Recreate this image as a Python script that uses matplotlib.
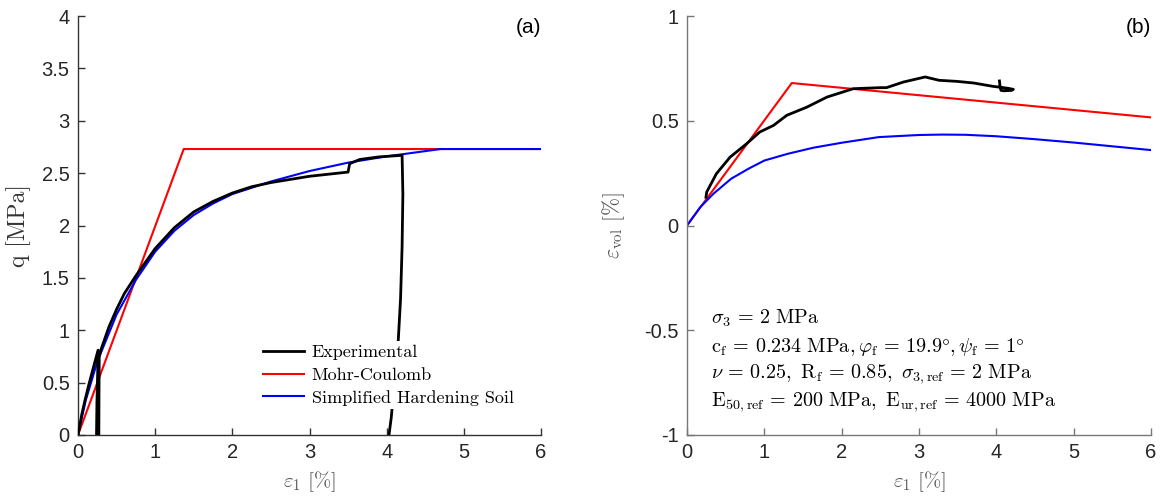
import matplotlib
matplotlib.use("Agg")
import matplotlib.pyplot as plt

matplotlib.rcParams['mathtext.fontset'] = 'cm'
matplotlib.rcParams['font.family'] = 'cmr10'
matplotlib.rcParams['axes.formatter.use_mathtext'] = True

# ---------------- (a) deviatoric stress vs axial strain ----------------
exp_q_x = [0, 0.05, 0.09, 0.14, 0.18, 0.22, 0.26, 0.255, 0.245, 0.24, 0.27, 0.272, 0.275,
           0.3, 0.4, 0.5, 0.6, 0.75, 1.0, 1.25, 1.5, 1.75, 2.0, 2.25, 2.5, 2.75, 3.0,
           3.25, 3.5, 3.52, 3.65, 3.9, 4.2, 4.21, 4.2, 4.18, 4.15, 4.1, 4.06, 4.03]
exp_q_y = [0, 0.2, 0.33, 0.48, 0.59, 0.7, 0.81, 0.6, 0.3, 0.0, 0.0, 0.4, 0.75,
           0.82, 1.03, 1.2, 1.35, 1.52, 1.78, 1.98, 2.13, 2.23, 2.31, 2.37, 2.41, 2.44, 2.47,
           2.49, 2.51, 2.59, 2.63, 2.655, 2.67, 2.3, 1.8, 1.3, 0.9, 0.5, 0.17, 0.0]

mc_q_x = [0, 1.37, 6]
mc_q_y = [0, 2.73, 2.73]

hs_q_x = [0, 0.1, 0.25, 0.5, 0.75, 1.0, 1.25, 1.5, 1.75, 2.0, 2.5, 3.0, 3.5, 4.0, 4.5, 4.7, 6]
hs_q_y = [0, 0.33, 0.7, 1.15, 1.48, 1.75, 1.95, 2.1, 2.21, 2.3, 2.42, 2.52, 2.6, 2.66, 2.71, 2.73, 2.73]

# ---------------- (b) volumetric strain vs axial strain ----------------
exp_v_x = [0.245, 0.255, 0.38, 0.556, 0.77, 0.94, 1.12, 1.29, 1.55, 1.81, 2.15, 2.5, 2.58,
           2.8, 3.08, 3.26, 3.49, 3.71, 3.96, 4.05, 4.15, 4.22, 4.2, 4.1, 4.06, 4.05, 4.04]
exp_v_y = [0.135, 0.16, 0.247, 0.326, 0.39, 0.446, 0.478, 0.526, 0.565, 0.613, 0.653, 0.658, 0.658,
           0.685, 0.709, 0.693, 0.688, 0.68, 0.664, 0.66, 0.655, 0.65, 0.645, 0.643, 0.645, 0.66, 0.69]

mc_v_x = [0, 1.355, 6]
mc_v_y = [0, 0.68, 0.516]

hs_v_x = [0, 0.17, 0.34, 0.57, 0.8, 1.0, 1.3, 1.63, 2.0, 2.48, 3.0, 3.3, 3.6, 4.0, 4.5, 5.0, 5.5, 6.0]
hs_v_y = [0, 0.087, 0.151, 0.223, 0.272, 0.31, 0.342, 0.371, 0.395, 0.422, 0.432, 0.434, 0.433,
          0.426, 0.412, 0.396, 0.378, 0.36]

params = [r'$\sigma_3\,=\,2\ \mathrm{MPa}$',
          r'$\mathrm{c_f}\,=\,0.234\ \mathrm{MPa},\varphi_\mathrm{f}\,=\,19.9\degree,\psi_\mathrm{f}\,=\,1\degree$',
          r'$\nu\,=\,0.25,\ \mathrm{R_f}\,=\,0.85,\ \sigma_{3,\mathrm{ref}}\,=\,2\ \mathrm{MPa}$',
          r'$\mathrm{E_{50,ref}}\,=\,200\ \mathrm{MPa},\ \mathrm{E_{ur,ref}}\,=\,4000\ \mathrm{MPa}$']

fig = plt.figure(figsize=(11.62, 5.0), dpi=100)
fig.set_facecolor('white')
ax1 = fig.add_axes([78/1162, 65/500, 463/1162, 419/500])
ax2 = fig.add_axes([687/1162, 65/500, 464/1162, 419/500])


def style_axes(ax, color):
    ax.spines['top'].set_visible(False)
    ax.spines['right'].set_visible(False)
    for s in ['left', 'bottom']:
        ax.spines[s].set_color(color)
        ax.spines[s].set_linewidth(1.0)
    ax.tick_params(direction='in', length=5, width=1.0, color=color, pad=6)
    for lab in ax.get_xticklabels() + ax.get_yticklabels():
        lab.set_fontfamily('Liberation Sans')
        lab.set_fontsize(14.5)
        lab.set_color('#262626')


# panel (a)
ax1.plot(exp_q_x, exp_q_y, color='black', lw=2, label='Experimental', zorder=3)
ax1.plot(mc_q_x, mc_q_y, color='red', lw=1.5, label='Mohr-Coulomb', zorder=2)
ax1.plot(hs_q_x, hs_q_y, color='blue', lw=1.5, label='Simplified Hardening Soil', zorder=2)
ax1.set_xlim(0, 6)
ax1.set_ylim(0, 4)
ax1.set_xticks(range(0, 7))
ax1.set_yticks([0, 0.5, 1, 1.5, 2, 2.5, 3, 3.5, 4])
ax1.set_xticklabels(['0', '1', '2', '3', '4', '5', '6'])
ax1.set_yticklabels(['0', '0.5', '1', '1.5', '2', '2.5', '3', '3.5', '4'])
style_axes(ax1, '#333333')
ax1.set_xlabel(r'$\varepsilon_1\ [\%]$', fontsize=15, color='#555555', labelpad=5)
ax1.set_ylabel('q [MPa]', fontsize=17, color='#333333', labelpad=8)
ax1.text(1.0, 0.995, '(a)', transform=ax1.transAxes, ha='right', va='top',
         fontsize=15, fontfamily='Liberation Sans')
leg = ax1.legend(loc='lower right', bbox_to_anchor=(0.968, 0.04), fontsize=13, frameon=True,
                 handlelength=2.3, handletextpad=0.4, labelspacing=0.38, borderpad=0.2)
leg.get_frame().set_edgecolor('none')
leg.get_frame().set_facecolor('white')
leg.get_frame().set_alpha(1)

# panel (b)
ax2.plot(exp_v_x, exp_v_y, color='black', lw=2, zorder=3)
ax2.plot(mc_v_x, mc_v_y, color='red', lw=1.5, zorder=2)
ax2.plot(hs_v_x, hs_v_y, color='blue', lw=1.5, zorder=2)
ax2.set_xlim(0, 6)
ax2.set_ylim(-1, 1)
ax2.set_xticks(range(0, 7))
ax2.set_yticks([-1, -0.5, 0, 0.5, 1])
ax2.set_xticklabels(['0', '1', '2', '3', '4', '5', '6'])
ax2.set_yticklabels(['-1', '-0.5', '0', '0.5', '1'])
style_axes(ax2, '#777777')
ax2.set_xlabel(r'$\varepsilon_1\ [\%]$', fontsize=15, color='#555555', labelpad=5)
ax2.set_ylabel(r'$\varepsilon_\mathrm{vol}\ [\%]$', fontsize=15.5, color='#555555', labelpad=12)
ax2.text(1.0, 0.995, '(b)', transform=ax2.transAxes, ha='right', va='top',
         fontsize=15, fontfamily='Liberation Sans')
for k, txt in enumerate(params):
    ax2.text(0.052, 0.278 - k * 0.0668, txt, transform=ax2.transAxes, ha='left', va='center',
             fontsize=14.5)

fig.savefig('out.png', dpi=100, facecolor='white')
